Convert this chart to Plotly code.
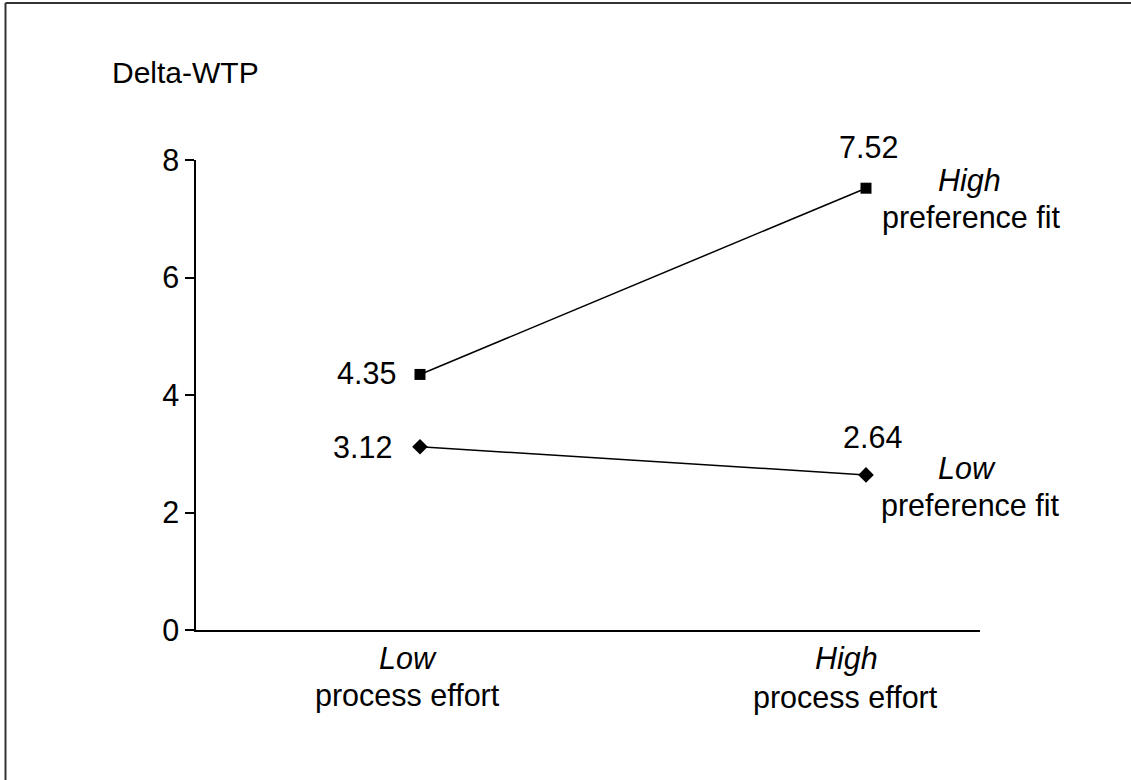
import plotly.graph_objects as go

categories = ["Low", "High"]
category_sub = "process effort"
high_fit = [4.35, 7.52]
low_fit = [3.12, 2.64]
y_ticks = [0, 2, 4, 6, 8]
y_title = "Delta-WTP"
series_names = ["High", "Low"]
series_sub = "preference fit"

xs = list(range(len(categories)))
FONT = "Liberation Sans, Arial, sans-serif"
FS = 30.5

fig = go.Figure()
fig.add_trace(go.Scatter(x=xs, y=high_fit, mode="lines+markers",
                         line=dict(color="black", width=1.5),
                         marker=dict(symbol="square", size=11, color="black"),
                         showlegend=False, hoverinfo="skip"))
fig.add_trace(go.Scatter(x=xs, y=low_fit, mode="lines+markers",
                         line=dict(color="black", width=1.5),
                         marker=dict(symbol="diamond", size=12, color="black"),
                         showlegend=False, hoverinfo="skip"))

ann = []
# value labels
ann.append(dict(x=xs[0], y=high_fit[0], text=f"{high_fit[0]:.2f}", xanchor="right", yanchor="middle", xshift=-22, yshift=1))
ann.append(dict(x=xs[0], y=low_fit[0], text=f"{low_fit[0]:.2f}", xanchor="right", yanchor="middle", xshift=-26, yshift=0))
ann.append(dict(x=xs[1], y=high_fit[1], text=f"{high_fit[1]:.2f}", xanchor="center", yanchor="middle", xshift=2, yshift=41))
ann.append(dict(x=xs[1], y=low_fit[1], text=f"{low_fit[1]:.2f}", xanchor="center", yanchor="middle", xshift=6, yshift=38))
# series labels
ann.append(dict(x=xs[1], y=high_fit[1], text=f"<i>{series_names[0]}</i>", xanchor="center", yanchor="middle", xshift=103, yshift=8))
ann.append(dict(x=xs[1], y=high_fit[1], text=series_sub, xanchor="center", yanchor="middle", xshift=105, yshift=-29))
ann.append(dict(x=xs[1], y=low_fit[1], text=f"<i>{series_names[1]}</i>", xanchor="center", yanchor="middle", xshift=101, yshift=7))
ann.append(dict(x=xs[1], y=low_fit[1], text=series_sub, xanchor="center", yanchor="middle", xshift=104, yshift=-31))
# category labels
ann.append(dict(x=xs[0], y=0, text=f"<i>{categories[0]}</i>", xanchor="center", yanchor="middle", xshift=-12, yshift=-28))
ann.append(dict(x=xs[0], y=0, text=category_sub, xanchor="center", yanchor="middle", xshift=-12.5, yshift=-65))
ann.append(dict(x=xs[1], y=0, text=f"<i>{categories[1]}</i>", xanchor="center", yanchor="middle", xshift=-20, yshift=-28))
ann.append(dict(x=xs[1], y=0, text=category_sub, xanchor="center", yanchor="middle", xshift=-21, yshift=-67))
# y title
ann.append(dict(x=0, y=1, xref="paper", yref="paper", text=y_title, xanchor="left", yanchor="middle", xshift=-86, yshift=88,
                font=dict(family=FONT, size=30, color="black")))
for a in ann:
    a.setdefault("xref", "x")
    a.setdefault("yref", "y")
    a["showarrow"] = False
    a.setdefault("font", dict(family=FONT, size=FS, color="black"))

fig.update_layout(
    width=1131, height=780,
    margin=dict(l=196, r=151, t=160, b=150),
    paper_bgcolor="white", plot_bgcolor="white",
    font=dict(family=FONT, size=FS, color="black"),
    annotations=ann,
    hovermode=False,
    xaxis=dict(range=[-0.5022, 1.2556], showgrid=False, zeroline=False,
               showline=True, linecolor="black", linewidth=1.5,
               showticklabels=False, ticks="", fixedrange=True),
    yaxis=dict(range=[0, 8], tickvals=y_ticks, showgrid=False, zeroline=False,
               showline=True, linecolor="black", linewidth=1.5,
               ticks="outside", ticklen=9, tickwidth=1.5, tickcolor="black",
               tickfont=dict(family=FONT, size=FS, color="black"),
               fixedrange=True),
    shapes=[
        dict(type="line", xref="paper", yref="paper",
             x0=(5.5 - 196) / 784, x1=(1140 - 196) / 784,
             y0=(630 - 3) / 470, y1=(630 - 3) / 470,
             line=dict(color="#333333", width=2)),
        dict(type="line", xref="paper", yref="paper",
             x0=(5.5 - 196) / 784, x1=(5.5 - 196) / 784,
             y0=(630 - 3) / 470, y1=(630 - 790) / 470,
             line=dict(color="#333333", width=2)),
    ],
)

fig.write_html("out.html", config={"displayModeBar": False},
               post_script="document.body.style.margin='0';")
